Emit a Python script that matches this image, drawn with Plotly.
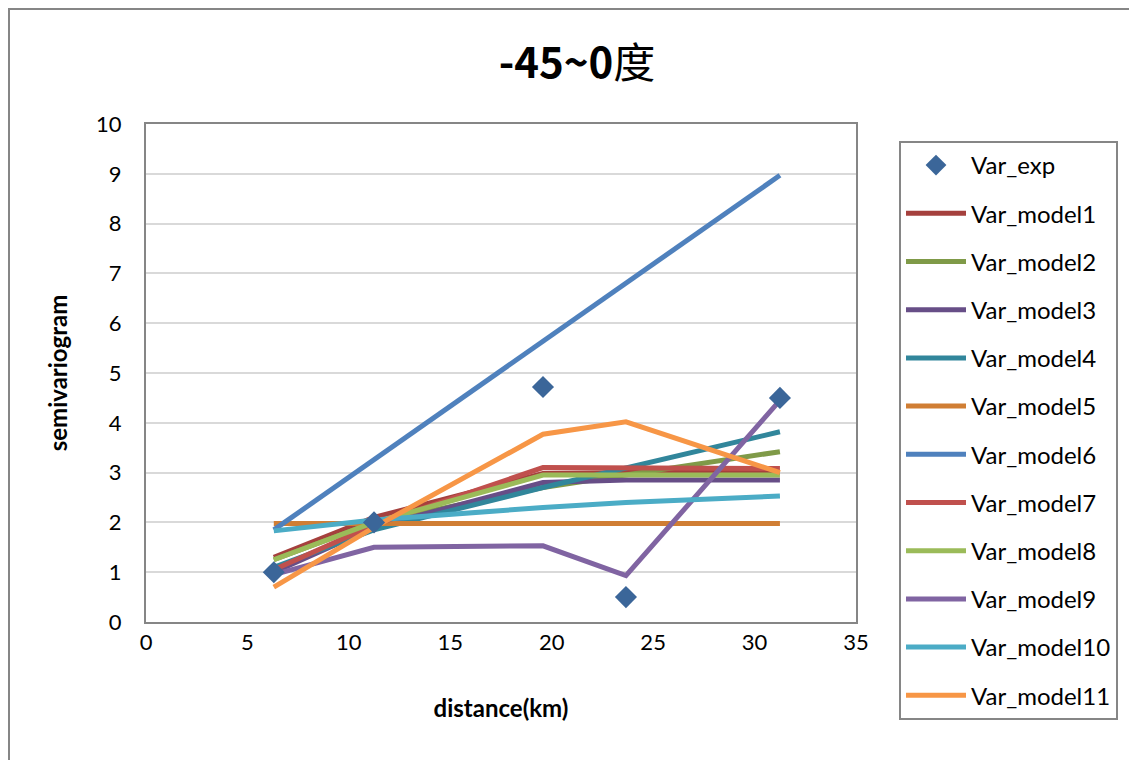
import plotly.graph_objects as go

distance = [6.3, 11.24, 19.57, 23.66, 31.25]
var_exp = [1.0, 2.0, 4.72, 0.5, 4.5]
var_model1 = [1.3, 2.1, 2.98, 3.0, 3.0]
var_model2 = [1.25, 2.0, 2.7, 2.95, 3.42]
var_model3 = [1.0, 1.9, 2.8, 2.85, 2.85]
var_model4 = [1.1, 1.85, 2.7, 3.1, 3.82]
var_model5 = [1.98, 1.98, 1.98, 1.98, 1.98]
var_model6 = [1.85, 3.26, 5.65, 6.82, 8.97]
var_model7 = [1.05, 1.95, 3.1, 3.1, 3.08]
var_model8 = [1.25, 2.0, 2.95, 2.95, 2.95]
var_model9 = [0.95, 1.5, 1.53, 0.93, 4.45]
var_model10 = [1.83, 2.05, 2.3, 2.4, 2.53]
var_model11 = [0.7, 1.9, 3.77, 4.02, 3.0]

models = [
    ("Var_model1", var_model1, "#A5403D"),
    ("Var_model2", var_model2, "#7F9A48"),
    ("Var_model3", var_model3, "#674E87"),
    ("Var_model4", var_model4, "#31869B"),
    ("Var_model5", var_model5, "#D07E34"),
    ("Var_model6", var_model6, "#4F81BD"),
    ("Var_model7", var_model7, "#C0504D"),
    ("Var_model8", var_model8, "#9BBB59"),
    ("Var_model9", var_model9, "#8064A2"),
    ("Var_model10", var_model10, "#4BACC6"),
    ("Var_model11", var_model11, "#F79646"),
]

FONT = "Lato, 'Noto Sans CJK TC', sans-serif"

# page offset of the plot inside the browser (body margin)
OFF = 7
L, R, T, B = 145, 855, 123, 621  # target plot-area pixel box
PW, PH = R - L, B - T

fig = go.Figure()
for i, (name, vals, col) in enumerate(models):
    fig.add_trace(go.Scatter(
        x=distance, y=vals, mode="lines", name=name,
        line=dict(color=col, width=5), legendgroup=name, legendrank=i + 2,
    ))
fig.add_trace(go.Scatter(
    x=distance, y=var_exp, mode="markers", name="Var_exp",
    marker=dict(symbol="diamond", size=17, color="#3B6699"),
    legendgroup="exp", legendrank=1,
))

fig.update_layout(
    width=1137, height=760,
    margin=dict(l=L - OFF, r=1137 - R + OFF, t=T - OFF, b=760 - B + OFF),
    paper_bgcolor="white", plot_bgcolor="white",
    font=dict(family=FONT, size=22, color="black"),
    title=dict(text="<b>-45~0</b>度", x=(576 - OFF) / 1137, xanchor="center",
               y=1 - (62 - OFF) / 760, yanchor="middle",
               font=dict(size=42, family="'Noto Sans CJK TC', Lato, sans-serif")),
    xaxis=dict(range=[0, 35], dtick=5, showgrid=False, showline=True,
               linecolor="#868686", linewidth=2, mirror=True, ticks="",
               zeroline=False, tickfont=dict(size=22),
               title=dict(text="<b>distance(km)</b>", standoff=46,
                          font=dict(size=24))),
    yaxis=dict(range=[0, 10], dtick=1, showgrid=True, gridcolor="#D9D9D9",
               gridwidth=2, showline=True, linecolor="#868686", linewidth=2,
               mirror=True, ticks="", zeroline=False, tickfont=dict(size=22),
               ticklabelstandoff=18,
               title=dict(text="<b>semivariogram</b>", standoff=22,
                          font=dict(size=24))),
    legend=dict(x=(898 - L) / PW, y=(B - 140) / PH, xanchor="left",
                yanchor="top", bordercolor="#868686", borderwidth=2,
                font=dict(size=24), tracegroupgap=14, itemwidth=60,
                traceorder="grouped", maxheight=720),
    showlegend=True,
    shapes=[dict(type="rect", xref="paper", yref="paper",
                 x0=(8 - L) / PW, x1=1.8, y0=-0.5, y1=(B - 8) / PH,
                 line=dict(color="#868686", width=2), layer="below")],
)

fig.write_html("out.html")
